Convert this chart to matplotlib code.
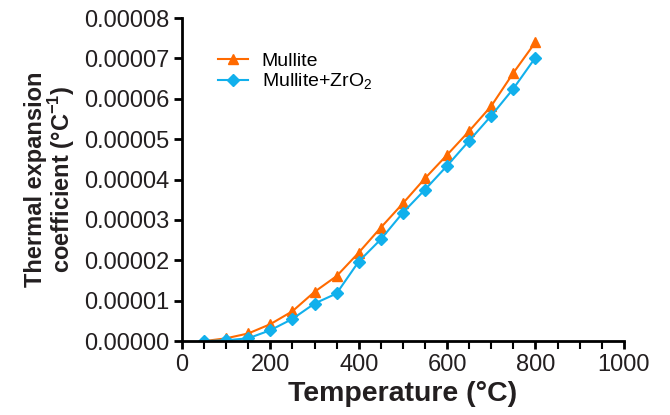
import numpy as np
import matplotlib.pyplot as plt

plt.rcParams['font.family'] = ['Liberation Sans', 'DejaVu Sans']

# temperature (°C) and thermal expansion coefficient (°C^-1)
temperature = [50, 100, 150, 200, 250, 300, 350, 400, 450, 500,
               550, 600, 650, 700, 750, 800]
mullite = [0.0e-5, 0.07e-5, 0.19e-5, 0.42e-5, 0.74e-5, 1.22e-5, 1.61e-5, 2.19e-5,
           2.81e-5, 3.41e-5, 4.03e-5, 4.61e-5, 5.20e-5, 5.82e-5, 6.64e-5, 7.40e-5]
mullite_zro2 = [0.0e-5, 0.02e-5, 0.07e-5, 0.27e-5, 0.55e-5, 0.93e-5, 1.18e-5, 1.97e-5,
                2.52e-5, 3.18e-5, 3.75e-5, 4.34e-5, 4.96e-5, 5.58e-5, 6.25e-5, 7.02e-5]

orange = '#FF6A00'
blue = '#11B0EC'

fig = plt.figure(figsize=(6.7, 4.15), dpi=100)
ax = fig.add_axes([0.2716, 0.178, 0.931 - 0.2716, 0.9566 - 0.178])

ax.plot(temperature, mullite, color=orange, marker='^', markersize=7.5,
        linewidth=1.5, label='Mullite')
ax.plot(temperature, mullite_zro2, color=blue, marker='D', markersize=6,
        linewidth=1.5, label='Mullite+ZrO$_\\mathregular{2}$')

ax.set_xlim(0, 1000)
ax.set_ylim(0, 0.00008)
ax.set_xticks(np.arange(0, 1001, 200))
ax.set_xticks(np.arange(0, 1001, 50), minor=True)
yticks = np.arange(0, 0.000081, 0.00001)
ax.set_yticks(yticks)
ax.set_yticklabels([f'{v:.5f}' for v in yticks])

for side in ['top', 'right']:
    ax.spines[side].set_visible(False)
for side in ['left', 'bottom']:
    ax.spines[side].set_linewidth(2)

ax.tick_params(axis='both', which='major', direction='out', length=6, width=2,
               labelsize=17, colors='black', labelcolor='#231f20', pad=3)
ax.tick_params(axis='x', which='minor', direction='out', length=6, width=1.5)

ax.set_xlabel('Temperature (°C)', fontsize=20.5, fontweight='bold', color='#231f20',
              labelpad=4)
ax.set_ylabel('Thermal expansion\ncoefficient (°C$^{\\mathregular{-1}}$)', fontsize=17,
              fontweight='bold', color='#231f20', linespacing=0.95, labelpad=5)

ax.legend(loc='upper left', bbox_to_anchor=(0.081, 0.895), frameon=False,
          borderpad=0, borderaxespad=0,
          fontsize=14, handlelength=1.55, handletextpad=0.7, labelspacing=0.1)

fig.savefig('out.png', dpi=100)
